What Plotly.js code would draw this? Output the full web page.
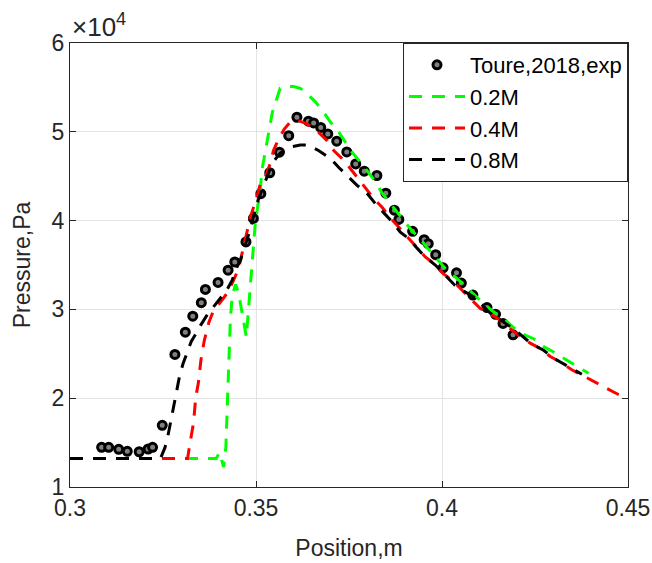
<!DOCTYPE html>
<html>
<head>
<meta charset="utf-8">
<script src="https://cdn.plot.ly/plotly-3.0.1.min.js"></script>
<style>html,body{margin:0;padding:0;background:#fff;}#chart{width:652px;height:563px;}</style>
</head>
<body>
<div id="chart"></div>
<script>
// Position (m) and pressure (in units of 1e4 Pa)
var expX = [0.3085,0.3104,0.3131,0.3154,0.3186,0.3210,0.3222,0.3248,0.3282,0.3310,0.3330,0.3353,0.3364,0.3398,0.3425,0.3443,0.3473,0.3493,0.3513,0.3537,0.3563,0.3588,0.3610,0.3641,0.3655,0.3674,0.3693,0.3717,0.3744,0.3768,0.3791,0.3825,0.3849,0.3872,0.3884,0.3921,0.3952,0.3963,0.3983,0.4003,0.4039,0.4052,0.4083,0.4121,0.4144,0.4164,0.4191];
var expY = [1.447,1.447,1.424,1.402,1.397,1.428,1.447,1.694,2.493,2.744,2.924,3.076,3.225,3.304,3.442,3.535,3.760,4.024,4.303,4.539,4.770,4.956,5.164,5.119,5.100,5.049,4.976,4.894,4.773,4.638,4.556,4.508,4.309,4.117,4.013,3.879,3.785,3.740,3.616,3.468,3.412,3.296,3.161,3.020,2.945,2.842,2.714];

var m02X = [0.300,0.3393,0.3402,0.3413,0.3419,0.3422,0.3427,0.3431,0.3436,0.3445,0.3453,0.3461,0.3469,0.3474,0.3480,0.3485,0.3489,0.3494,0.3498,0.3505,0.3510,0.3516,0.3525,0.3534,0.3544,0.3555,0.3565,0.3574,0.3587,0.3601,0.3619,0.3637,0.3659,0.3682,0.3700,0.3722,0.3740,0.3758,0.3780,0.3803,0.3821,0.3839,0.3861,0.3883,0.3901,0.3923,0.3937,0.3959,0.3986,0.4013,0.4040,0.4067,0.4094,0.4121,0.4143,0.4170,0.4191,0.4219,0.4246,0.4273,0.4300,0.4335,0.4362,0.4394];
var m02Y = [1.32,1.32,1.39,1.225,1.45,1.87,2.35,2.88,3.15,3.28,3.19,2.99,2.77,2.69,3.01,3.27,3.46,3.72,3.97,4.17,4.27,4.57,4.79,5.02,5.22,5.36,5.49,5.50,5.51,5.51,5.49,5.43,5.34,5.22,5.11,5.00,4.89,4.77,4.66,4.53,4.44,4.31,4.19,4.08,3.98,3.87,3.82,3.70,3.57,3.44,3.35,3.24,3.14,3.03,2.96,2.88,2.80,2.72,2.67,2.58,2.52,2.43,2.37,2.28];

var m04X = [0.300,0.3316,0.3324,0.3332,0.3338,0.3345,0.3352,0.3361,0.3373,0.3385,0.3404,0.3422,0.3439,0.3453,0.3463,0.3471,0.3485,0.3501,0.3512,0.3525,0.3539,0.3547,0.3561,0.3576,0.3592,0.3611,0.3637,0.3664,0.3691,0.3709,0.3731,0.3753,0.3776,0.3796,0.3816,0.3839,0.3861,0.3883,0.3908,0.3928,0.3955,0.3977,0.4004,0.4027,0.4053,0.4076,0.4103,0.4129,0.4156,0.4196,0.4237,0.4264,0.4291,0.4317,0.4349,0.4376,0.4407,0.4434,0.4470,0.4500];
var m04Y = [1.32,1.32,1.53,1.72,2.01,2.17,2.43,2.65,2.85,2.98,3.08,3.18,3.32,3.46,3.64,3.78,4.04,4.25,4.42,4.49,4.65,4.79,4.92,5.03,5.11,5.13,5.09,5.01,4.90,4.79,4.70,4.59,4.47,4.36,4.25,4.15,4.03,3.93,3.81,3.72,3.59,3.52,3.40,3.33,3.22,3.12,3.01,2.95,2.88,2.74,2.62,2.56,2.47,2.41,2.32,2.26,2.19,2.13,2.05,2.00];

var m08X = [0.300,0.3243,0.3255,0.3261,0.3270,0.3275,0.3281,0.3288,0.3295,0.3304,0.3316,0.3326,0.3342,0.3351,0.3369,0.3382,0.3395,0.3422,0.3436,0.3449,0.3458,0.3467,0.3476,0.3485,0.3503,0.3525,0.3544,0.3565,0.3592,0.3619,0.3641,0.3668,0.3700,0.3722,0.3749,0.3771,0.3798,0.3821,0.3843,0.3865,0.3888,0.3910,0.3933,0.3955,0.3982,0.4004,0.4035,0.4053,0.4089,0.4129,0.4156,0.4196,0.4241,0.4273,0.4300,0.4326,0.4353,0.4376];
var m08Y = [1.32,1.32,1.44,1.53,1.72,1.83,1.98,2.13,2.26,2.39,2.54,2.64,2.75,2.82,2.94,3.01,3.07,3.22,3.33,3.48,3.55,3.67,3.78,3.91,4.20,4.45,4.65,4.76,4.83,4.85,4.85,4.79,4.70,4.60,4.49,4.40,4.31,4.19,4.09,3.99,3.87,3.80,3.69,3.59,3.50,3.40,3.27,3.22,3.13,2.96,2.88,2.77,2.61,2.54,2.45,2.39,2.32,2.27];

var seriesNames = ['Toure,2018,exp','0.2M','0.4M','0.8M'];
var xTicks = [0.3,0.35,0.4,0.45];
var xTickText = ['0.3','0.35','0.4','0.45'];
var yTicks = [1,2,3,4,5,6];
var yTickText = ['1','2','3','4','5','6'];

var FONT = 'Liberation Sans, Arial, Helvetica, sans-serif';
var TXT = '#262626';
var dash = '13px,10px';

var traces = [
  {x: expX, y: expY, name: seriesNames[0], type: 'scatter', mode: 'markers',
   marker: {symbol: 'circle', size: 8, color: '#808080', line: {color: '#000000', width: 3}}},
  {x: m02X, y: m02Y, name: seriesNames[1], type: 'scatter', mode: 'lines',
   line: {color: '#00ff00', width: 3, dash: dash}},
  {x: m04X, y: m04Y, name: seriesNames[2], type: 'scatter', mode: 'lines',
   line: {color: '#ff0000', width: 3, dash: dash}},
  {x: m08X, y: m08Y, name: seriesNames[3], type: 'scatter', mode: 'lines',
   line: {color: '#000000', width: 3, dash: dash}}
];

var axisCommon = {
  showline: true, linecolor: TXT, linewidth: 1, mirror: 'ticks',
  ticks: 'inside', ticklen: 6, tickcolor: TXT, tickwidth: 1,
  showgrid: true, gridcolor: '#e3e3e3', gridwidth: 1, zeroline: false,
  tickfont: {family: FONT, size: 23, color: TXT}
};

var layout = {
  width: 652, height: 563,
  margin: {l: 70, r: 24, t: 43, b: 76},
  paper_bgcolor: '#ffffff', plot_bgcolor: '#ffffff',
  font: {family: FONT, color: TXT},
  showlegend: true,
  xaxis: Object.assign({}, axisCommon, {
    range: [0.3, 0.45], tickvals: xTicks, ticktext: xTickText,
    title: {text: 'Position,m', font: {family: FONT, size: 23, color: TXT}, standoff: 20}
  }),
  yaxis: Object.assign({}, axisCommon, {
    range: [1, 6], tickvals: yTicks, ticktext: yTickText,
    title: {text: 'Pressure,Pa', font: {family: FONT, size: 23, color: TXT}, standoff: 14}
  }),
  legend: {
    x: 1, xanchor: 'right', y: 1, yanchor: 'top',
    bgcolor: '#ffffff', bordercolor: TXT, borderwidth: 1,
    font: {family: FONT, size: 22, color: '#000000'},
    itemwidth: 56, tracegroupgap: 0
  },
  annotations: [{
    xref: 'paper', yref: 'paper', x: 0, y: 1, xanchor: 'left', yanchor: 'bottom',
    text: '×10<sup>4</sup>', showarrow: false, xshift: 0, yshift: -1,
    font: {family: FONT, size: 26, color: TXT}
  }]
};

Plotly.newPlot('chart', traces, layout, {displayModeBar: false, staticPlot: true});
</script>
</body>
</html>
